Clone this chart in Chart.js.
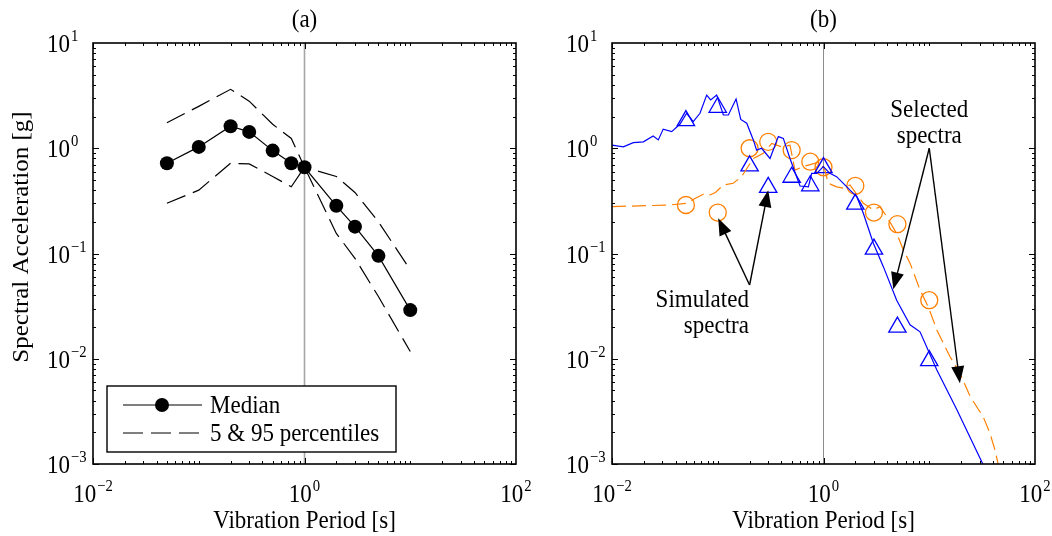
<!DOCTYPE html>
<html>
<head>
<meta charset="utf-8">
<script src="https://cdn.jsdelivr.net/npm/chart.js@4.4.0/dist/chart.umd.min.js"></script>
<style>
body { margin: 0; background: #fff; }
#wrap { position: relative; width: 1052px; height: 536px; }
canvas { position: absolute; top: 0; }
</style>
</head>
<body>
<div id="wrap">
  <canvas id="chartA" width="560" height="536" style="left:0"></canvas>
  <canvas id="chartB" width="526" height="536" style="left:526px"></canvas>
</div>
<script>
// periods used by the median / percentile curves and the markers
const periods = [0.05, 0.1, 0.2, 0.3, 0.5, 0.75, 1, 2, 3, 5, 10]
const medianSa = [0.72, 1.03, 1.62, 1.43, 0.95, 0.72, 0.66, 0.284, 0.18, 0.095, 0.029]
const p95Sa = [1.75, 2.5, 3.63, 2.8, 1.69, 1.24, 0.66, 0.54, 0.38, 0.2, 0.07]
const p5Sa = [0.3, 0.4, 0.72, 0.71, 0.54, 0.43, 0.66, 0.155, 0.09, 0.039, 0.0117]

// panel (b): two simulated spectra and the selected points
const blueT = [0.01, 0.0128, 0.0159, 0.0198, 0.0245, 0.0274, 0.0305, 0.0367, 0.044, 0.0508, 0.0587, 0.0679, 0.0786, 0.0857, 0.0977, 0.113, 0.126, 0.149, 0.165, 0.188, 0.217, 0.233, 0.26, 0.312, 0.374, 0.417, 0.482, 0.557, 0.6, 0.72, 0.773, 0.863, 0.996, 1.15, 1.33, 1.54, 1.78, 2.06, 2.38, 2.96, 3.68, 4.92, 6.58, 8.18, 11.8, 18.2, 32.4, 40]
const blueSa = [1.07, 1.03, 1.13, 1.15, 1.31, 1.2, 1.52, 1.44, 1.7, 2.15, 1.79, 2.15, 3.2, 2.88, 3.2, 2.07, 2.07, 2.94, 1.88, 1.73, 1.2, 0.96, 1.0, 0.8, 1.29, 1.24, 0.8, 0.537, 0.438, 0.43, 0.578, 0.578, 0.67, 0.578, 0.537, 0.464, 0.4, 0.347, 0.241, 0.125, 0.075, 0.036, 0.021, 0.018, 0.0078, 0.0033, 0.00098, 0.0006]
const orangeT = [0.01, 0.0353, 0.05, 0.0757, 0.0845, 0.095, 0.113, 0.14, 0.168, 0.217, 0.27, 0.324, 0.403, 0.482, 0.537, 0.644, 0.75, 0.927, 1.03, 1.11, 1.33, 1.54, 1.78, 2.38, 2.96, 3.42, 3.96, 4.92, 5.69, 6.58, 8.18, 9.8, 11.8, 14.1, 15.7, 19.5, 24.3, 32.4, 37.5, 41.8, 45, 50]
const orangeSa = [0.279, 0.289, 0.3, 0.373, 0.36, 0.38, 0.448, 0.465, 0.537, 0.8, 0.895, 1.11, 1.03, 1.07, 0.62, 0.67, 0.7, 0.745, 0.62, 0.465, 0.43, 0.417, 0.448, 0.3, 0.259, 0.279, 0.224, 0.155, 0.108, 0.081, 0.045, 0.031, 0.0188, 0.013, 0.0105, 0.0073, 0.0044, 0.0028, 0.00196, 0.00136, 0.00098, 0.0007]
const circleSa = [0.289, 0.245, 1.0, 1.15, 0.96, 0.745, 0.66, 0.44, 0.245, 0.19, 0.036]
const triangleSa = [1.83, 2.45, 0.68, 0.425, 0.53, 0.44, 0.655, 0.295, 0.11, 0.02, 0.0096]

// axes
const xTickLabels = [-2, 0, 2]
const yTickLabels = [-3, -2, -1, 0, 1]
const xMin = 0.01, xMax = 100, yMin = 0.001, yMax = 10

const fontFam = '"Liberation Serif", "Times New Roman", serif'
const SX = 0.92 // glyphs in the figure are a bit narrow / tall
const pts = (xs, ys) => xs.map((x, i) => ({ x: x, y: ys[i] }))
const refLine = [{ x: 1, y: yMin }, { x: 1, y: yMax }]

function put(ctx, s, x, y, size, align, base) {
  ctx.save()
  ctx.translate(x, y)
  ctx.scale(SX, 1)
  ctx.font = size + 'px ' + fontFam
  ctx.textAlign = align || 'left'
  ctx.textBaseline = base || 'alphabetic'
  ctx.fillText(s, 0, 0)
  ctx.restore()
}

function textW(ctx, s, size) {
  ctx.font = size + 'px ' + fontFam
  return ctx.measureText(s).width * SX
}

function drawPow(ctx, exp, x, y, mode) {
  const sup = exp < 0 ? '\u2212' + (-exp) : String(exp)
  const wb = textW(ctx, '10', 25), ws = textW(ctx, sup, 16)
  const x0 = mode == 'center' ? x - (wb + ws + 1) / 2 : x
  put(ctx, '10', x0, y, 25)
  put(ctx, sup, x0 + wb + 1, y - 11, 16)
}

function arrow(ctx, x1, y1, x2, y2) {
  const a = Math.atan2(y2 - y1, x2 - x1)
  const L = 17, W = 6.5
  ctx.beginPath()
  ctx.moveTo(x1, y1)
  ctx.lineTo(x2 - Math.cos(a) * L * 0.8, y2 - Math.sin(a) * L * 0.8)
  ctx.stroke()
  ctx.beginPath()
  ctx.moveTo(x2, y2)
  ctx.lineTo(x2 - Math.cos(a) * L + Math.sin(a) * W, y2 - Math.sin(a) * L - Math.cos(a) * W)
  ctx.lineTo(x2 - Math.cos(a) * L - Math.sin(a) * W, y2 - Math.sin(a) * L + Math.cos(a) * W)
  ctx.closePath()
  ctx.fill()
}

const framePlugin = {
  id: 'frame',
  afterDraw(chart, args, opts) {
    const ctx = chart.ctx
    const { left, right, top, bottom } = chart.chartArea
    const xs = chart.scales.x, ys = chart.scales.y
    ctx.save()
    ctx.strokeStyle = '#000'
    ctx.fillStyle = '#000'
    ctx.lineWidth = 1
    // ticks inside on all four sides
    ctx.beginPath()
    for (let e = -2; e < 2; e++) {
      for (let m = 1; m < 10; m++) {
        const v = m * Math.pow(10, e)
        const px = Math.round(xs.getPixelForValue(v)) + 0.5
        const len = (m == 1 && xTickLabels.includes(e)) ? 6 : 3
        ctx.moveTo(px, bottom); ctx.lineTo(px, bottom - len)
        ctx.moveTo(px, top); ctx.lineTo(px, top + len)
      }
    }
    for (let e = -3; e < 1; e++) {
      for (let m = 1; m < 10; m++) {
        const v = m * Math.pow(10, e)
        const py = Math.round(ys.getPixelForValue(v)) + 0.5
        const len = m == 1 ? 6 : 3
        ctx.moveTo(left, py); ctx.lineTo(left + len, py)
        ctx.moveTo(right, py); ctx.lineTo(right - len, py)
      }
    }
    ctx.stroke()
    ctx.lineWidth = 1.6
    ctx.strokeRect(left, top, right - left, bottom - top)

    // tick labels
    xTickLabels.forEach(e => drawPow(ctx, e, xs.getPixelForValue(Math.pow(10, e)), bottom + 38, 'center'))
    yTickLabels.forEach(e => drawPow(ctx, e, left - 46, ys.getPixelForValue(Math.pow(10, e)) + 9, 'left'))

    // titles
    const cx = (left + right) / 2
    put(ctx, opts.title, cx, 20, 25, 'center', 'middle')
    put(ctx, 'Vibration Period [s]', cx, 521, 25, 'center', 'middle')
    if (opts.yTitle) {
      ctx.save()
      ctx.translate(22, 237)
      ctx.rotate(-Math.PI / 2)
      ctx.scale(1, SX)
      ctx.font = '25px ' + fontFam
      ctx.textAlign = 'center'
      ctx.textBaseline = 'middle'
      ctx.fillText(opts.yTitle, 0, 0)
      ctx.restore()
    }

    if (opts.legend) {
      const bx = left + 14, by = bottom - 78, bw = 289, bh = 66
      ctx.fillStyle = '#fff'
      ctx.fillRect(bx, by, bw, bh)
      ctx.fillStyle = '#000'
      ctx.lineWidth = 1.4
      ctx.strokeRect(bx, by, bw, bh)
      const ds = chart.data.datasets
      const r1 = by + 19, r2 = by + 47
      ctx.lineWidth = 1.2
      ctx.beginPath(); ctx.moveTo(bx + 16, r1); ctx.lineTo(bx + 95, r1); ctx.stroke()
      ctx.beginPath(); ctx.arc(bx + 55, r1, 7, 0, Math.PI * 2); ctx.fill()
      ctx.setLineDash([20, 8])
      ctx.beginPath(); ctx.moveTo(bx + 16, r2); ctx.lineTo(bx + 95, r2); ctx.stroke()
      ctx.setLineDash([])
      put(ctx, ds[0].label, bx + 103, r1 + 1, 25, 'left', 'middle')
      put(ctx, ds[1].label, bx + 103, r2 + 1, 25, 'left', 'middle')
    }

    if (opts.notes) {
      ctx.lineWidth = 1.4
      opts.notes.forEach(n => {
        const jx = xs.getPixelForValue(n.joint[0]), jy = ys.getPixelForValue(n.joint[1])
        n.tips.forEach(t => arrow(ctx, jx, jy, xs.getPixelForValue(t[0]), ys.getPixelForValue(t[1])))
        const tx = xs.getPixelForValue(n.at[0])
        n.lines.forEach((s, i) => put(ctx, s, tx, ys.getPixelForValue(n.at[i + 1]), 25, n.align, 'middle'))
      })
    }
    ctx.restore()
  }
}

const logScales = {
  x: { type: 'logarithmic', min: xMin, max: xMax, display: false },
  y: { type: 'logarithmic', min: yMin, max: yMax, display: false }
}

new Chart(document.getElementById('chartA').getContext('2d'), {
  type: 'scatter',
  data: {
    datasets: [
      { label: 'Median', data: pts(periods, medianSa), showLine: true, borderColor: '#000', backgroundColor: '#000', borderWidth: 1.2, pointRadius: 7, pointBorderWidth: 0 },
      { label: '5 & 95 percentiles', data: pts(periods, p95Sa), showLine: true, borderColor: '#000', borderWidth: 1.2, borderDash: [20, 8], pointRadius: 0 },
      { label: '5th', data: pts(periods, p5Sa), showLine: true, borderColor: '#000', borderWidth: 1.2, borderDash: [20, 8], pointRadius: 0 },
      { label: 'T*', data: refLine, showLine: true, borderColor: '#a6a6a6', borderWidth: 1.6, pointRadius: 0, order: 10 }
    ]
  },
  options: {
    responsive: false,
    animation: false,
    events: [],
    layout: { padding: { left: 93, right: 44, top: 43, bottom: 72 } },
    scales: logScales,
    plugins: {
      legend: { display: false },
      tooltip: { enabled: false },
      frame: { title: '(a)', yTitle: 'Spectral Acceleration [g]', legend: true }
    }
  },
  plugins: [framePlugin]
})

new Chart(document.getElementById('chartB').getContext('2d'), {
  type: 'scatter',
  data: {
    datasets: [
      { label: 'Simulated 1', data: pts(blueT, blueSa), showLine: true, borderColor: '#0000ff', borderWidth: 1.2, pointRadius: 0 },
      { label: 'Simulated 2', data: pts(orangeT, orangeSa), showLine: true, borderColor: '#ff8000', borderWidth: 1.2, borderDash: [14, 6], pointRadius: 0 },
      { label: 'Selected 1', data: pts(periods, triangleSa), showLine: false, pointStyle: 'triangle', pointRadius: 10, borderColor: '#0000ff', backgroundColor: 'rgba(0,0,0,0)', pointBorderWidth: 1.3 },
      { label: 'Selected 2', data: pts(periods, circleSa), showLine: false, pointStyle: 'circle', pointRadius: 8.5, borderColor: '#ff8000', backgroundColor: 'rgba(0,0,0,0)', pointBorderWidth: 1.3 },
      { label: 'T*', data: refLine, showLine: true, borderColor: '#8c8c8c', borderWidth: 1, pointRadius: 0, order: 10 }
    ]
  },
  options: {
    responsive: false,
    animation: false,
    events: [],
    layout: { padding: { left: 86, right: 17, top: 43, bottom: 72 } },
    scales: logScales,
    plugins: {
      legend: { display: false },
      tooltip: { enabled: false },
      frame: {
        title: '(b)',
        notes: [
          { lines: ['Selected', 'spectra'], align: 'center', at: [10, 2.3, 1.29], joint: [10, 1.0], tips: [[4.57, 0.0457], [19.5, 0.00585]] },
          { lines: ['Simulated', 'spectra'], align: 'right', at: [0.197, 0.036, 0.0201], joint: [0.2, 0.0502], tips: [[0.101, 0.216], [0.3, 0.4]] }
        ]
      }
    }
  },
  plugins: [framePlugin]
})
</script>
</body>
</html>
